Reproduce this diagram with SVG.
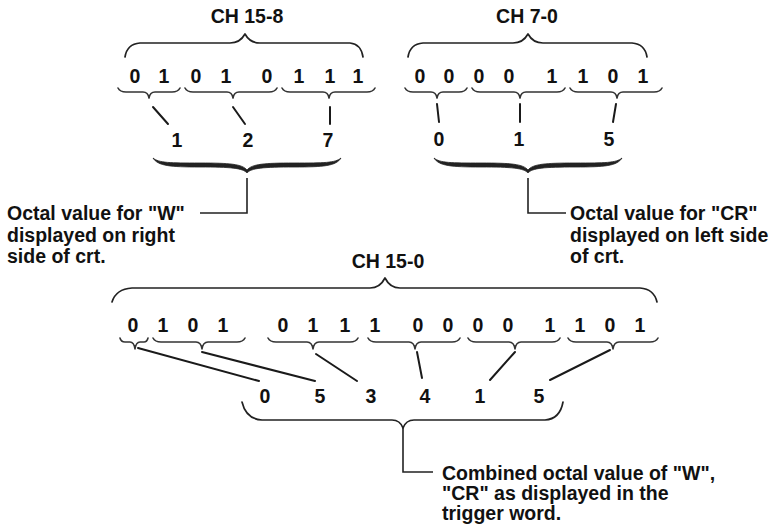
<svg xmlns="http://www.w3.org/2000/svg" width="774" height="525" viewBox="0 0 774 525">
<style>
text{font-family:"Liberation Sans",Arial,sans-serif;font-weight:bold;font-size:19.5px;fill:#111}
.c{text-anchor:middle}
.br{fill:none;stroke:#222;stroke-width:1.7;stroke-linecap:round;stroke-linejoin:round}
.sb{fill:none;stroke:#333;stroke-width:1.6;stroke-linecap:round;stroke-linejoin:round}
.ln{fill:none;stroke:#1a1a1a;stroke-width:2;stroke-linecap:round}
.ld{fill:none;stroke:#222;stroke-width:1.6}
.tb{fill:#222;stroke:#222;stroke-width:0.8;stroke-linejoin:round}
</style>
<defs>
<path id="thick" d="M-94,158 C-89,166 -77,167 -47,167 C-17,167 -4,168 0,173 C4,168 17,167 47,167 C77,167 89,166 94,158 C88,163 77,163 47,163 C17,163 5,164 0,170 C-5,164 -17,163 -47,163 C-77,163 -88,163 -94,158 Z"/>
</defs>
<rect width="774" height="525" fill="#fff"/>

<g id="ch15-8">
<text class="c" x="247" y="23">CH 15-8</text>
<path class="br" d="M125,57 Q127,44 140,43 L230,43 Q240,43 245,34 Q250,43 260,43 L350,43 Q361,44 363,57"/>
<text class="c" x="135" y="83">0</text><text class="c" x="164" y="83">1</text>
<text class="c" x="196" y="83">0</text><text class="c" x="226" y="83">1</text><text class="c" x="267" y="83">0</text>
<text class="c" x="299" y="83">1</text><text class="c" x="330" y="83">1</text><text class="c" x="358" y="83">1</text>
<path class="sb" d="M118,88 Q120,92 126,92 L143,92 Q148,92 149,98 Q150,92 155,92 L172,92 Q178,92 180,88"/>
<path class="sb" d="M185,88 Q187,92 193,92 L227,92 Q232,92 233,98 Q234,92 239,92 L269,92 Q275,92 277,88"/>
<path class="sb" d="M282,88 Q284,92 290,92 L323,92 Q328,92 329,98 Q330,92 335,92 L367,92 Q373,92 375,88"/>
<text class="c" x="177" y="147">1</text><text class="c" x="248" y="147">2</text><text class="c" x="328" y="147">7</text>
<use href="#thick" class="tb" transform="translate(247,0)"/>
</g>

<g id="ch7-0">
<text class="c" x="527" y="23">CH 7-0</text>
<path class="br" d="M408,57 Q410,44 423,43 L513,43 Q523,43 528,34 Q533,43 543,43 L632,43 Q645,44 647,57"/>
<text class="c" x="420" y="83">0</text><text class="c" x="449" y="83">0</text>
<text class="c" x="479" y="83">0</text><text class="c" x="509" y="83">0</text><text class="c" x="552" y="83">1</text>
<text class="c" x="583" y="83">1</text><text class="c" x="613" y="83">0</text><text class="c" x="643" y="83">1</text>
<path class="sb" d="M405,88 Q407,92 413,92 L431,92 Q436,92 437,98 Q438,92 443,92 L459,92 Q465,92 467,88"/>
<path class="sb" d="M472,88 Q474,92 480,92 L514,92 Q519,92 520,98 Q521,92 526,92 L557,92 Q563,92 565,88"/>
<path class="sb" d="M570,88 Q572,92 578,92 L611,92 Q616,92 617,98 Q618,92 623,92 L654,92 Q660,92 662,88"/>
<text class="c" x="439" y="146">0</text><text class="c" x="519" y="146">1</text><text class="c" x="609" y="146">5</text>
<use href="#thick" class="tb" transform="translate(528,0)"/>
</g>

<g id="ch15-0">
<text class="c" x="388" y="268">CH 15-0</text>
<path class="br" d="M112,302 Q116,289 132,288 L370,288 Q380,288 385,278 Q390,288 400,288 L640,288 Q654,289 657,302"/>
<text class="c" x="133" y="332">0</text><text class="c" x="163" y="332">1</text><text class="c" x="193" y="332">0</text><text class="c" x="223" y="332">1</text>
<text class="c" x="283" y="332">0</text><text class="c" x="313" y="332">1</text><text class="c" x="345" y="332">1</text><text class="c" x="375" y="332">1</text>
<text class="c" x="418" y="332">0</text><text class="c" x="448" y="332">0</text><text class="c" x="478" y="332">0</text><text class="c" x="508" y="332">0</text>
<text class="c" x="550" y="332">1</text><text class="c" x="580" y="332">1</text><text class="c" x="610" y="332">0</text><text class="c" x="640" y="332">1</text>
<path class="sb" d="M120,338 Q121,342 125,342 L130,342 Q134,342 135,349 Q136,342 140,342 L144,342 Q147,342 148,338"/>
<path class="sb" d="M153,338 Q155,342 161,342 L196,342 Q201,342 202,349 Q203,342 208,342 L237,342 Q243,342 245,338"/>
<path class="sb" d="M268,338 Q270,342 276,342 L307,342 Q312,342 313,349 Q314,342 319,342 L350,342 Q356,342 358,338"/>
<path class="sb" d="M368,338 Q370,342 376,342 L409,342 Q414,342 415,349 Q416,342 421,342 L452,342 Q458,342 460,338"/>
<path class="sb" d="M468,338 Q470,342 476,342 L509,342 Q514,342 515,349 Q516,342 521,342 L552,342 Q558,342 560,338"/>
<path class="sb" d="M568,338 Q570,342 576,342 L607,342 Q612,342 613,349 Q614,342 619,342 L650,342 Q656,342 658,338"/>
<text class="c" x="265" y="403">0</text><text class="c" x="320" y="403">5</text><text class="c" x="371" y="403">3</text>
<text class="c" x="425" y="403">4</text><text class="c" x="480" y="403">1</text><text class="c" x="539" y="403">5</text>
<path class="br" d="M242,402 Q246,419 262,420 L392,420 Q400,420 403,428 Q406,420 414,420 L545,420 Q560,419 563,402"/>
</g>

<g id="note-w">
<text x="7" y="220">Octal value for "W"</text>
<text x="7" y="242">displayed on right</text>
<text x="7" y="263">side of crt.</text>
</g>

<g id="note-cr">
<text x="570" y="220">Octal value for "CR"</text>
<text x="570" y="242">displayed on left side</text>
<text x="570" y="263">of crt.</text>
</g>

<g id="note-combined">
<text x="442" y="480">Combined octal value of "W",</text>
<text x="442" y="500">"CR" as displayed in the</text>
<text x="442" y="520">trigger word.</text>
</g>

<g id="connectors">
<line class="ln" x1="153" y1="107" x2="168" y2="124"/>
<line class="ln" x1="233" y1="107" x2="245" y2="124"/>
<line class="ln" x1="330" y1="107" x2="330" y2="124"/>
<line class="ln" x1="437" y1="104" x2="439" y2="122"/>
<line class="ln" x1="520" y1="104" x2="520" y2="122"/>
<line class="ln" x1="616" y1="104" x2="613" y2="122"/>
<polyline class="ld" points="247,178 247,213 200,213"/>
<polyline class="ld" points="528,178 528,213 566,213"/>
<line class="ln" x1="138" y1="348" x2="259" y2="381"/>
<line class="ln" x1="202" y1="352" x2="315" y2="381"/>
<line class="ln" x1="316" y1="354" x2="357" y2="381"/>
<line class="ln" x1="417" y1="352" x2="422" y2="378"/>
<line class="ln" x1="515" y1="352" x2="490" y2="380"/>
<line class="ln" x1="610" y1="350" x2="550" y2="380"/>
<polyline class="ld" points="403,428 403,472 433,472"/>
</g>
</svg>
